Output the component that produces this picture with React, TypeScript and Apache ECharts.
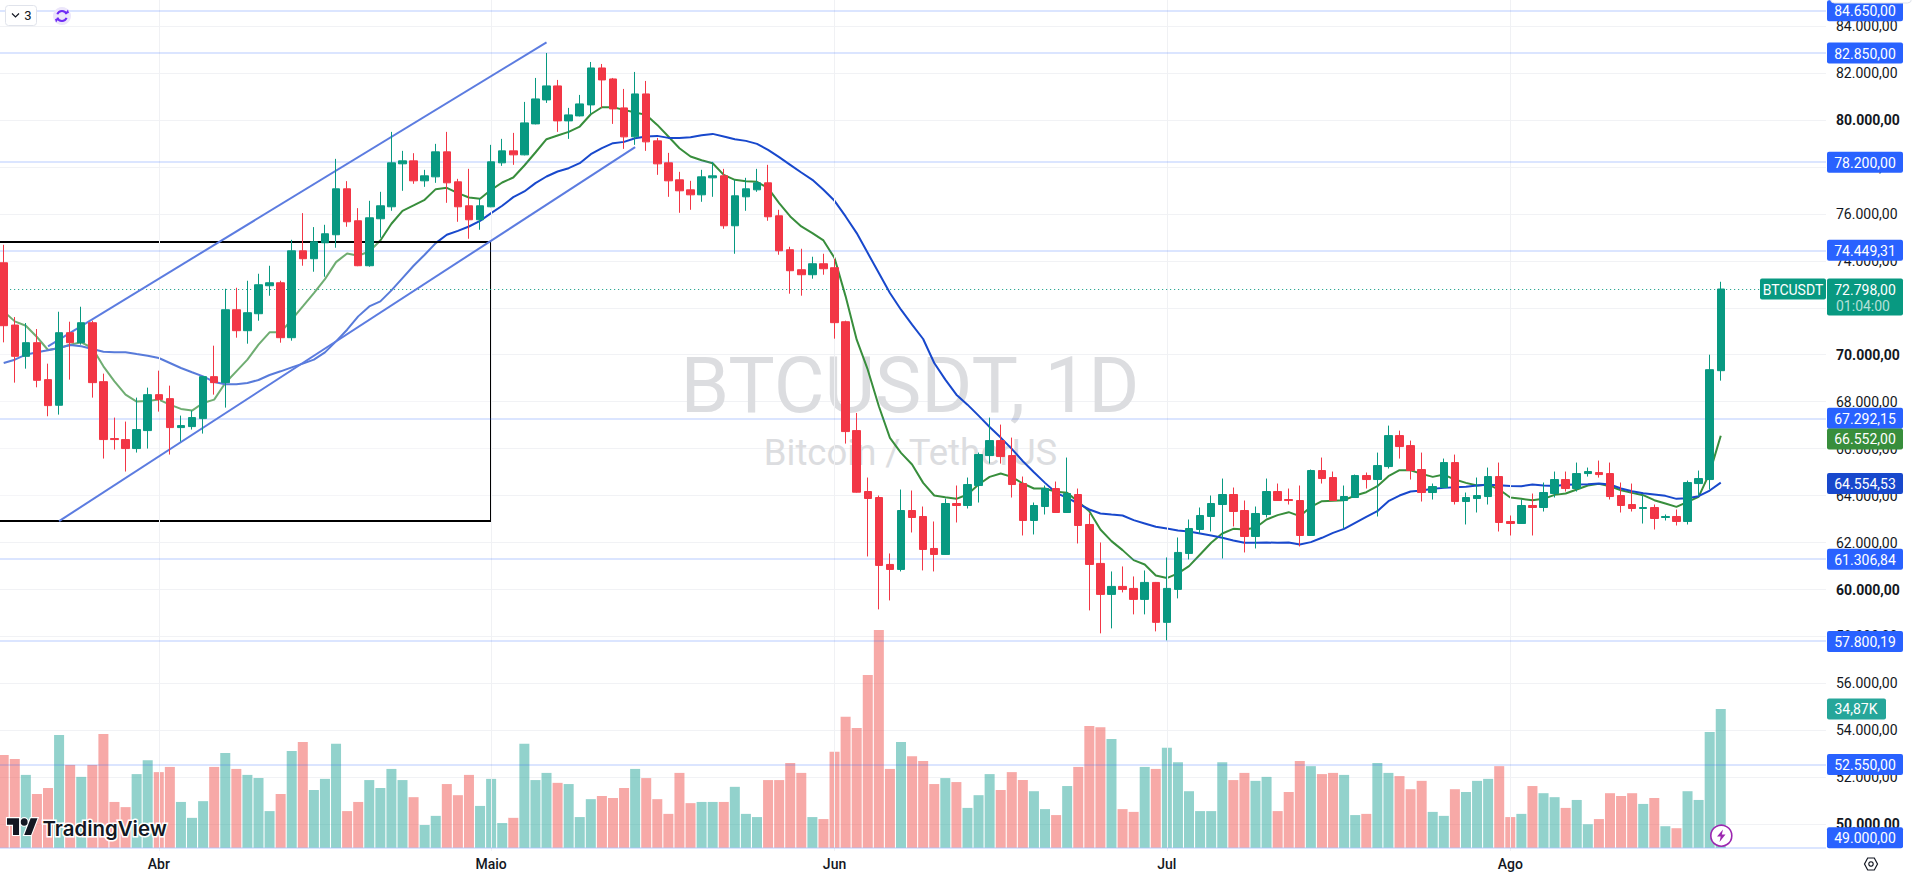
import React, { useEffect, useRef } from "react";
import * as echarts from "echarts";

const opens = [73916,71264,69931,70513,68939,67847,70938,70513,71363,68853,66429,66386,66003,66769,68300,68130,66897,66939,67279,69066,68811,71916,71023,71746,72937,73065,70725,74426,74088,74768,75109,77066,75705,73790,75790,76300,78130,78257,77406,77576,78640,77364,76343,75747,76300,78172,78682,78512,79831,80852,81448,79959,80171,80639,82213,81745,80512,79278,81107,79108,78172,77448,77023,76810,77534,77619,75492,76725,77023,77321,75917,74471,73620,73407,73875,73705,71405,66768,64174,63918,61068,60855,63365,63110,61749,61494,63663,63578,64429,65705,66343,65705,64514,62940,63535,64301,63280,64046,62770,61111,59792,60132,60047,59579,60302,58601,60005,61536,62557,63110,63620,64046,63365,62259,63195,64173,63833,63790,62301,65067,64769,63790,63918,64854,64684,65237,66556,66130,65109,64131,64343,65407,63748,63875,63960,64811,62897,62812,63578,63493,64088,64684,64301,64939,64981,64939,64003,63620,63450,63492,63067,63110,62897,64513,64684,69320];
const closes = [71236,69931,70513,68910,67832,70938,70513,71363,68811,66386,66386,66003,66812,68300,68088,66897,66982,67322,69066,68811,71916,71023,71789,72980,73065,70725,74426,74088,74811,75152,77066,75662,73790,75832,76343,78172,78257,77406,77619,78640,77321,76300,75747,76343,78214,78682,78512,79874,80894,81448,79959,80214,80682,82213,81703,80469,79278,81107,79065,78129,77406,76981,76810,77576,77619,75492,76768,77066,77321,75875,74428,73577,73407,73875,73662,71365,66726,64145,63876,61026,60855,63365,63067,61706,61494,63663,63578,64471,65748,66343,65662,64471,62940,63578,64301,63280,64088,62727,61068,59792,60132,60004,59579,60302,58601,60047,61579,62599,63153,63663,64046,63323,62259,63238,64173,63790,63790,62301,65067,64727,63790,63961,64854,64684,65279,66556,66088,65067,64131,64386,65407,63748,63918,64003,64811,62854,62812,63578,63493,64131,64684,64301,64939,65024,64896,63960,63578,63450,63492,63025,63110,62897,64556,64726,69363,72798];
const highs = [74681,71604,71349,71094,69619,71831,71406,72044,71448,69194,67322,67152,68173,68598,69321,68683,67407,67620,69066,70385,72810,72852,73150,73448,73788,73150,74894,76031,75435,75534,78342,77392,76243,76555,76938,79491,78682,78583,77874,78980,79491,77491,77917,76640,78938,79193,79448,80767,81788,82851,81703,80512,81065,82468,82383,81788,81320,82043,81660,79235,78597,77789,77406,77874,78214,77916,77449,77534,77916,78087,76172,74598,74513,74173,74300,74088,71450,67520,64769,64003,61536,64258,64216,63535,62897,63876,64429,64769,65832,67321,67024,66470,64812,63705,64429,64599,65620,64301,63238,62004,60770,60983,60557,60812,60322,61366,62216,62982,63493,64003,64726,64344,63790,63535,64726,64514,64301,64429,65109,65620,65024,64429,64897,64982,65832,66981,66768,66343,65832,64514,65577,65747,64131,64769,65194,65407,63152,63833,64088,64556,65024,65024,65407,65194,65492,65407,64556,64513,64003,63620,63195,63407,64641,65066,70001,73107];
const lows = [70527,68811,69406,68612,67379,67450,68939,70428,68173,65578,65961,65025,65833,66003,67577,65748,66301,66812,66641,68300,67747,70725,70470,71448,72512,70513,70597,73790,73535,73322,74556,75449,73770,73748,74982,76130,76981,77279,77151,77321,76470,75662,74939,75322,76280,78044,78087,78490,79810,80724,79491,79193,80150,80256,80512,79831,78767,78938,78682,77661,76725,76045,76172,76513,76725,75364,74300,76130,76938,75704,74258,72599,72514,73237,73407,70684,66215,64125,61408,59154,59536,60770,62429,60813,60770,61474,62855,63450,63705,65365,65365,63918,62302,62344,63195,63260,63260,61961,59111,58133,58345,59877,58941,58941,58218,57835,59622,61281,62387,62472,61323,62685,61579,61749,63067,63770,63620,61834,62281,64514,63770,62599,63900,64301,63110,65152,65577,64684,63748,63833,64320,63620,62770,63280,63620,62471,62301,62790,62301,63322,63918,64173,64173,64811,64768,63833,63280,63322,62811,62557,62939,62727,62769,63960,64258,68895];
const volumesK = [23.3,22.3,18.3,13.5,15.0,28.3,20.8,17.8,20.8,28.6,11.5,10.2,18.5,22.0,19.0,20.3,11.5,7.5,11.7,20.3,23.8,19.8,18.3,17.5,9.2,13.5,24.3,26.6,14.5,17.3,26.1,9.2,11.5,17.0,15.0,19.8,17.0,12.7,5.7,8.0,16.0,13.2,18.3,10.5,17.3,6.2,7.5,26.1,17.0,18.8,16.3,16.0,7.7,12.2,13.0,12.5,15.0,19.8,17.5,12.2,8.5,18.8,11.2,11.5,11.5,11.5,15.3,8.5,7.7,17.0,17.0,21.3,18.8,7.7,7.2,24.1,32.9,30.1,43.4,54.7,19.8,26.6,23.0,21.8,16.0,17.5,16.5,10.0,13.2,18.5,14.5,19.0,17.0,14.2,9.7,8.2,15.5,20.3,30.6,30.3,27.3,9.7,9.0,20.3,19.8,25.1,21.5,14.2,9.2,9.2,21.5,17.0,18.8,16.8,17.8,9.2,14.0,21.8,20.5,18.5,18.8,18.3,8.2,8.5,21.3,18.8,18.0,14.7,16.8,9.0,8.0,14.7,14.0,16.8,17.3,20.5,7.7,8.5,15.5,13.7,12.7,10.0,12.0,5.9,7.2,13.7,13.0,13.7,11.0,12.5,5.4,4.9,14.2,12.0,29.1,34.87];
const maGreen = [71846,71420,71236,70754,70201,70286,70428,70527,70286,69506,68868,68300,68003,68031,68088,67875,67691,67620,67946,68088,68797,69293,69789,70428,70952,70952,71491,72058,72626,73221,73944,74313,74214,74398,74866,75577,76130,76357,76598,77052,77108,76882,76697,76641,77023,77335,77548,78058,78612,79179,79335,79491,79718,80242,80540,80540,80427,80313,80214,79788,79292,78796,78441,78285,78157,77661,77448,77392,77363,77094,76456,75889,75463,75180,74868,74116,72486,70640,69363,67804,66456,65818,65322,64542,64003,63932,63862,64046,64471,64797,64939,64797,64514,64301,64301,64159,64117,63734,63337,62557,62061,61678,61252,61068,60600,60487,60685,60997,61493,61990,62387,62585,62557,62628,62982,63167,63294,63124,63521,63762,63776,63805,64003,64145,64400,64826,65081,65081,64925,64797,64896,64684,64542,64428,64471,64258,63918,63861,63804,63861,64031,64088,64258,64428,64499,64400,64230,64116,64017,63804,63663,63521,63733,63946,64967,66552];
const maBlue = [69648,69789,70002,70101,70186,70286,70413,70357,70243,70130,70101,70101,70030,69960,69860,69648,69435,69251,69080,68839,68740,68740,68797,68924,69137,69293,69463,69619,69789,70101,70569,71066,71633,72058,72271,72739,73263,73788,74256,74752,75107,75277,75461,75702,76031,76343,76711,76953,77307,77591,77803,77945,78158,78541,78796,79009,79065,79221,79292,79320,79235,79235,79264,79349,79405,79292,79179,79108,78980,78725,78413,78087,77761,77448,77023,76555,75889,75180,74329,73478,72627,71918,71280,70670,69647,68938,68300,67874,67407,66924,66471,65989,65464,64996,64542,64117,63904,63663,63408,63238,63195,63153,62954,62812,62670,62599,62514,62472,62387,62302,62203,62089,61990,61990,62004,61990,62004,61919,62018,62203,62415,62585,62841,63096,63337,63762,64003,64174,64216,64287,64329,64357,64372,64428,64457,64443,64414,64400,64471,64428,64414,64457,64471,64485,64513,64471,64301,64187,64102,64045,63989,63861,63890,63975,64216,64554.53];

const levelLines = [84650, 82850, 78200, 74449.31, 67292.15, 61306.84, 57800.19, 52550, 49000];
const lastPrice = 72798;
const monthStarts: [number, string][] = [[14, "Abr"], [44, "Maio"], [75, "Jun"], [105, "Jul"], [136, "Ago"]];
const boldTicks = [50000, 60000, 70000, 80000];
const rectangle = { rightIndex: 44, top: 74821, bottom: 62937 };
const trendUpper = { from: [4, 70359], to: [49, 83305] };
const trendLower = { from: [5, 62912], to: [57, 78838] };
// value, text, colour, pixel nudge used by the price scale to keep tags apart
const priceTags: [number, string, string, number][] = [
  [84650, "84.650,00", "#2962ff", 0],
  [82850, "82.850,00", "#2962ff", 0],
  [78200, "78.200,00", "#2962ff", 0],
  [74449.31, "74.449,31", "#2962ff", 0],
  [67292.15, "67.292,15", "#2962ff", 0],
  [66552, "66.552,00", "#388e3c", 3.3],
  [64554.53, "64.554,53", "#1848cc", 1],
  [61306.84, "61.306,84", "#2962ff", 0.5],
  [57800.19, "57.800,19", "#2962ff", 0.3],
  [52550, "52.550,00", "#2962ff", 0],
  [49000, "49.000,00", "#2962ff", -10],
];

const TOTAL_SLOTS = 165;
const categories = Array.from({ length: TOTAL_SLOTS }, (_, i) => `d${i}`);
const monthByIndex = new Map(monthStarts);

const UP = "#089981";
const DOWN = "#f23645";
const FONT = "Roboto, sans-serif";

echarts.graphic.registerShape(
  "tvlogo",
  echarts.graphic.extendPath("M14 22H7V11H0V4h14v18zM28 22h-8l7.5-18h8L28 22zM24 8a4 4 0 1 1-8 0a4 4 0 1 1 8 0z", {})
);

function fmtTick(v: number) {
  if (v <= 48000 || v >= 86000) return "";
  const s = v.toLocaleString("pt-BR", { minimumFractionDigits: 2, maximumFractionDigits: 2 });
  return boldTicks.includes(v) ? `{b|${s}}` : s;
}

export default function App() {
  const ref = useRef<HTMLDivElement>(null);
  useEffect(() => {
    document.body.style.margin = "0";
    document.body.style.overflow = "hidden";
    const chart = echarts.init(ref.current!, undefined, { renderer: "svg" });
    const grid = { left: -1.84, width: 1827.84, outerBoundsMode: "none", containLabel: false };
    const hidden = { lineStyle: { opacity: 0, width: 0 }, showSymbol: false, silent: true };
    const ml = { symbol: "none", silent: true, label: { show: false }, animation: false };
    chart.setOption({
      animation: false,
      backgroundColor: "#ffffff",
      tooltip: { show: false },
      grid: [
        { ...grid, top: -20.96, height: 892.24 },
        { ...grid, top: 609, height: 238.7 },
      ],
      xAxis: [
        { type: "category", gridIndex: 0, data: categories, boundaryGap: true, axisLine: { show: false }, axisTick: { show: false }, axisLabel: { show: false }, splitLine: { show: false } },
        {
          type: "category", gridIndex: 1, data: categories, boundaryGap: true, axisLine: { show: false }, axisTick: { show: false }, splitLine: { show: false },
          axisLabel: {
            show: true, margin: 9, color: "#131722", fontFamily: FONT, fontSize: 14, fontWeight: 500,
            interval: (i: number) => monthByIndex.has(i),
            formatter: (_v: string, i: number) => monthByIndex.get(i) ?? "",
          },
        },
      ],
      yAxis: [
        {
          type: "value", gridIndex: 0, position: "right", min: 48000, max: 86000, interval: 2000, scale: false,
          axisLine: { show: false }, axisTick: { show: false },
          splitLine: { show: true, showMinLine: false, showMaxLine: false, lineStyle: { color: "#f1f2f5", width: 1 } },
          axisLabel: {
            show: true, inside: false, margin: 10, align: "left", color: "#131722", fontFamily: FONT, fontSize: 14, formatter: fmtTick,
            rich: { b: { fontWeight: 700, color: "#131722", fontFamily: FONT, fontSize: 14 } },
          },
        },
        { type: "value", gridIndex: 1, min: 0, max: 60, show: false },
      ],
      series: [
        {
          name: "levels", type: "line", data: closes, z: 1, ...hidden,
          markLine: {
            ...ml,
            data: [
              ...monthStarts.map(([i]) => [
                { coord: [categories[i], 48864], lineStyle: { color: "#f0f1f4", width: 1, type: "solid" } },
                { coord: [categories[i], 85900] },
              ]),
              ...levelLines.map((v) => ({ yAxis: v, lineStyle: { color: "rgba(41,98,255,0.17)", width: 2, type: "solid" } })),
              { yAxis: lastPrice, lineStyle: { color: UP, width: 1, type: [1, 3] } },
            ],
          },
        },
        {
          name: "volume", type: "bar", xAxisIndex: 1, yAxisIndex: 1, barWidth: 10, z: 2, silent: true,
          data: volumesK.map((v, i) => ({
            value: v,
            itemStyle: { color: closes[i] >= opens[i] ? "rgba(38,166,154,0.5)" : "rgba(239,83,80,0.5)" },
          })),
        },
        { name: "MA fast", type: "line", data: maGreen, z: 3, showSymbol: false, silent: true, smooth: false, lineStyle: { color: "#388e3c", width: 2 } },
        { name: "MA slow", type: "line", data: maBlue, z: 3, showSymbol: false, silent: true, smooth: false, lineStyle: { color: "#1848cc", width: 2 } },
        {
          name: "rectangle", type: "custom", z: 4, silent: true, clip: false,
          encode: { x: 0, y: [1, 2] },
          data: [[rectangle.rightIndex, rectangle.top, rectangle.bottom]],
          renderItem: (_p: any, api: any) => {
            const a = api.coord([api.value(0), api.value(1)]);
            const b = api.coord([api.value(0), api.value(2)]);
            const right = Math.round(a[0]);
            const top = Math.round(a[1]);
            const bottom = Math.round(b[1]);
            return {
              type: "rect", silent: true,
              shape: { x: -10, y: top, width: right + 10, height: bottom - top },
              style: { fill: "rgba(255,255,255,0.28)", stroke: "#000000", lineWidth: 2 },
            };
          },
        },
        {
          name: "trend", type: "line", data: closes, z: 5, ...hidden,
          markLine: {
            ...ml,
            lineStyle: { color: "#5c7ce0", width: 2, type: "solid" },
            data: [trendUpper, trendLower].map((t) => [
              { coord: [categories[t.from[0]], t.from[1]] },
              { coord: [categories[t.to[0]], t.to[1]] },
            ]),
          },
        },
        {
          name: "BTCUSDT", type: "candlestick", z: 6, silent: true, barWidth: 8,
          data: opens.map((o, i) => [o, closes[i], lows[i], highs[i]]),
          itemStyle: { color: UP, color0: DOWN, borderColor: UP, borderColor0: DOWN, borderWidth: 1 },
        },
      ],
    });

    const py = (v: number) => chart.convertToPixel({ yAxisIndex: 0 }, v) as number;
    const volY = chart.convertToPixel({ yAxisIndex: 1 }, 34.87) as number;
    const lastY = py(lastPrice);
    const tag = (x: number, y: number, w: number, h: number, fill: string) => ({
      type: "rect", z: 100, silent: true, shape: { x, y, width: w, height: h, r: 2 }, style: { fill },
    });
    const txt = (x: number, y: number, text: string, fill: string, font = `14px ${FONT}`, align = "center", z = 101) => ({
      type: "text", z, silent: true, x, y,
      style: { text, fill, font, textAlign: align, textVerticalAlign: "middle", verticalAlign: "middle" },
    });
    const line = (pts: number[][], stroke: string, lineWidth: number, z = 101) => ({
      type: "polyline", z, silent: true, shape: { points: pts }, style: { stroke, lineWidth, fill: "none" },
    });

    const graphics: any[] = [
      txt(910, 385, "BTCUSDT, 1D", "#dcdde0", `78px ${FONT}`, "center", 0),
      txt(910.5, 452, "Bitcoin / TetherUS", "#dcdde0", `36.5px ${FONT}`, "center", 0),
      ...priceTags.flatMap(([v, label, color, nudge]) => [
        tag(1827, py(v) + nudge - 10.5, 76, 21, color),
        txt(1865, py(v) + nudge + 0.5, label, "#ffffff"),
      ]),
      tag(1760, lastY - 10.5, 66, 21, UP),
      txt(1793, lastY + 0.5, "BTCUSDT", "#ffffff"),
      tag(1827, lastY - 10.5, 76, 37, UP),
      txt(1865, lastY + 0.5, "72.798,00", "#ffffff"),
      txt(1863, lastY + 16.5, "01:04:00", "#b4e0d8"),
      tag(1827, volY - 10.5, 59, 21, "#26a69a"),
      txt(1856, volY + 0.5, "34,87K", "#ffffff"),
      // top-left controls
      { type: "rect", z: 100, silent: true, shape: { x: 5.5, y: 5.5, width: 31, height: 20, r: 3 }, style: { fill: "#ffffff", stroke: "#e0e3eb", lineWidth: 1 } },
      line([[12, 13.5], [15.5, 17], [19, 13.5]], "#131722", 1.2),
      txt(28, 15.5, "3", "#131722", `13px ${FONT}`),
      { type: "circle", z: 100, silent: true, shape: { cx: 62, cy: 16, r: 9 }, style: { fill: "#ece6fb" } },
      { type: "arc", z: 101, silent: true, shape: { cx: 62, cy: 16, r: 5, startAngle: 3.5, endAngle: 5.9 }, style: { stroke: "#6f2cf5", lineWidth: 2, fill: "none" } },
      { type: "arc", z: 101, silent: true, shape: { cx: 62, cy: 16, r: 5, startAngle: 0.4, endAngle: 2.8 }, style: { stroke: "#6f2cf5", lineWidth: 2, fill: "none" } },
      { type: "polygon", z: 101, silent: true, shape: { points: [[65, 13.5], [69, 13], [68, 9.5]] }, style: { fill: "#6f2cf5" } },
      { type: "polygon", z: 101, silent: true, shape: { points: [[59, 18.5], [55, 19], [56, 22.5]] }, style: { fill: "#6f2cf5" } },
      // top-right button edge
      { type: "rect", z: 100, silent: true, shape: { x: 1830.5, y: -20, width: 81, height: 23, r: 4 }, style: { fill: "#ffffff", stroke: "#e0e3eb", lineWidth: 1 } },
      // logo
      { type: "tvlogo", z: 101, silent: true, x: 7, y: 814.5, scaleX: 0.86, scaleY: 0.93, style: { fill: "#131722", stroke: "#ffffff", lineWidth: 2.5, strokeFirst: true } },
      {
        type: "text", z: 101, silent: true, x: 42.5, y: 828,
        style: { text: "TradingView", fill: "#131722", font: `600 20.4px Inter, ${FONT}`, textAlign: "left", textVerticalAlign: "middle", verticalAlign: "middle", stroke: "#ffffff", lineWidth: 3 },
      },
      // lightning badge
      { type: "circle", z: 101, silent: true, shape: { cx: 1721.3, cy: 835.7, r: 10.5 }, style: { fill: "#ffffff", stroke: "#9c27b0", lineWidth: 1.6 } },
      { type: "polygon", z: 102, silent: true, shape: { points: [[1723, 829.5], [1717, 836.5], [1720.7, 836.5], [1719.5, 842], [1725.5, 834.5], [1721.8, 834.5]] }, style: { fill: "#9c27b0" } },
      // settings hexagon
      { type: "polygon", z: 101, silent: true, shape: { points: [[1864.5, 864], [1867.7, 858], [1874.3, 858], [1877.5, 864], [1874.3, 870], [1867.7, 870]] }, style: { fill: "none", stroke: "#131722", lineWidth: 1.2 } },
      { type: "circle", z: 101, silent: true, shape: { cx: 1871, cy: 864, r: 2.2 }, style: { fill: "none", stroke: "#131722", lineWidth: 1.2 } },
    ];
    chart.setOption({ graphic: graphics });
    return () => chart.dispose();
  }, []);
  return <div ref={ref} style={{ width: 1915, height: 875, background: "#fff" }} />;
}
